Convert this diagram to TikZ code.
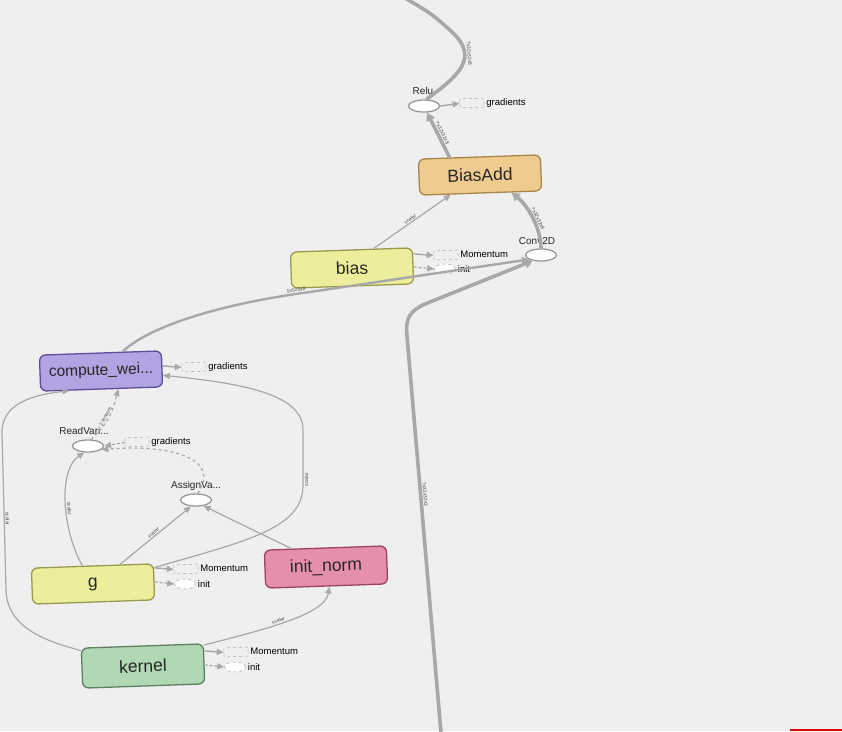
\documentclass[tikz,border=0pt]{standalone}
\usepackage{fontspec}
\setmainfont{Liberation Sans}
\usetikzlibrary{shapes.geometric,arrows.meta}
\definecolor{bg}{HTML}{EFEFEF}
\definecolor{edgec}{HTML}{A8A8A8}
\definecolor{yelf}{HTML}{EDED9C}\definecolor{yeld}{HTML}{9A9A52}
\definecolor{tanf}{HTML}{EFCB8F}\definecolor{tand}{HTML}{A8874C}
\definecolor{purf}{HTML}{B2A4E2}\definecolor{purd}{HTML}{5E4E9A}
\definecolor{pinf}{HTML}{E68FAD}\definecolor{pind}{HTML}{9E4262}
\definecolor{grnf}{HTML}{B1D8B4}\definecolor{grnd}{HTML}{5E805F}
\tikzset{
  opnode/.style={draw, line width=1.3pt, rounded corners=6pt, minimum width=122pt,
    minimum height=36pt, rotate=2, font=\fontsize{17.5}{17.5}\selectfont, text=black!85},
  oval/.style={ellipse, draw=black!40, fill=white, line width=1.3pt, minimum width=31pt,
    minimum height=12pt, inner sep=0pt},
  ovlabel/.style={font=\fontsize{10}{10}\selectfont, text=black!85},
  sumbox/.style={draw=black!35, dashed, line width=0.5pt, minimum width=24pt, minimum height=9pt,
    inner sep=0pt, rotate=2},
  initov/.style={ellipse, draw=black!35, dashed, line width=0.5pt, fill=white, minimum width=21pt,
    minimum height=10pt, inner sep=0pt},
  auxtxt/.style={font=\fontsize{9.5}{9.5}\selectfont, text=black, inner sep=2pt},
  bigedge/.style={draw=edgec, line width=3.6pt, -{Triangle[length=8pt,width=9pt]}},
  midedge/.style={draw=edgec, line width=2.4pt, -{Triangle[length=7pt,width=7pt]}},
  thinedge/.style={draw=edgec, line width=1.2pt, -{Triangle[length=7pt,width=6pt]}},
  dashedge/.style={draw=edgec, line width=1.2pt, dashed, -{Triangle[length=7pt,width=6pt]}},
  auxarrow/.style={draw=edgec, line width=1.4pt, -{Triangle[length=7pt,width=6pt]}},
  auxdash/.style={draw=edgec, line width=1.2pt, densely dashed, -{Triangle[length=7pt,width=6pt]}},
  elab/.style={font=\fontsize{5}{5}\selectfont, text=black!70, sloped, inner sep=1pt}
}
\begin{document}
\begin{tikzpicture}[x=1pt,y=-1pt]
\fill[bg] (0,0) rectangle (842,731);
\useasboundingbox (0,0) rectangle (842,731);
\fill[red!85!black] (790,729) rectangle (842,731);

% main nodes
\node[opnode, fill=tanf, draw=tand] (biasadd) at (480,175) {BiasAdd};
\node[opnode, fill=yelf, draw=yeld] (bias) at (352,268) {bias};
\node[opnode, fill=purf, draw=purd, font=\fontsize{15.5}{15.5}\selectfont] (cw) at (101,371) {compute\_wei...};
\node[opnode, fill=yelf, draw=yeld] (g) at (93,584) {g};
\node[opnode, fill=pinf, draw=pind, minimum height=38pt] (initn) at (326,567) {init\_norm};
\node[opnode, fill=grnf, draw=grnd, minimum height=40pt] (kernel) at (143,666) {kernel};

\node[oval] (relu) at (424,106) {};
\node[ovlabel] (relut) at (423,91) {Relu};
\node[oval] (conv) at (541,255) {};
\node[ovlabel] (convt) at (537,241) {Conv2D};
\node[oval] (rv) at (88,446) {};
\node[ovlabel] (rvt) at (84,431) {ReadVari...};
\node[oval] (av) at (196,500) {};
\node[ovlabel] (avt) at (196,486) {AssignVa...};

% free ends
\coordinate (topend) at (405,-2);
\coordinate (botend) at (441,733);

% auxiliary summary nodes
\node[sumbox] (reluG) at (472,103) {};
\node[auxtxt, anchor=west] (reluGt) at (reluG.east) {gradients};
\draw[auxarrow] (relu.east) -- (reluG.west);

\node[sumbox] (biasM) at (446,255) {};
\node[auxtxt, anchor=west] (biasMt) at (biasM.east) {Momentum};
\node[initov] (biasI) at (445,269) {};
\node[auxtxt, anchor=west] (biasIt) at (biasI.east) {init};
\draw[auxarrow] ([yshift=12pt]bias.east) -- (biasM.west);
\draw[auxdash] ([yshift=-1pt]bias.east) -- (biasI.west);

\node[sumbox] (cwG) at (194,367) {};
\node[auxtxt, anchor=west] (cwGt) at (cwG.east) {gradients};
\draw[auxarrow] ([yshift=3pt]cw.east) -- (cwG.west);

\node[sumbox] (rvG) at (137,442) {};
\node[auxtxt, anchor=west] (rvGt) at (rvG.east) {gradients};
\draw[auxdash] (rvG.west) -- (rv.east);

\node[sumbox] (gM) at (186,569) {};
\node[auxtxt, anchor=west] (gMt) at (gM.east) {Momentum};
\node[initov] (gI) at (185,584) {};
\node[auxtxt, anchor=west] (gIt) at (gI.east) {init};
\draw[auxarrow] ([yshift=14pt]g.east) -- (gM.west);
\draw[auxdash] ([yshift=0pt]g.east) -- (gI.west);

\node[sumbox] (kM) at (236,652) {};
\node[auxtxt, anchor=west] (kMt) at (kM.east) {Momentum};
\node[initov] (kI) at (235,667) {};
\node[auxtxt, anchor=west] (kIt) at (kI.east) {init};
\draw[auxarrow] ([yshift=13pt]kernel.east) -- (kM.west);
\draw[auxdash] ([yshift=-1pt]kernel.east) -- (kI.west);

% tensor edges
\draw[bigedge, -] (relu.70) .. controls (458,76) and (480,58) .. (452,32)
   node[elab, pos=0.7, above] {?x32x32x8} .. controls (432,14) .. (topend);
\draw[bigedge] (biasadd.148) -- node[elab, above] {?x32x32x8} (relu.-65);
\draw[bigedge] (conv.north) .. controls (541,228) and (528,206) .. node[elab, above, pos=0.45] {?x32x32x8} (biasadd.-31);
\draw[thinedge] (bias.40) -- node[elab, above] {scalar} (biasadd.-148);
\draw[midedge] (cw.40) .. controls (150,326) and (220,304) .. (310,292)
   node[elab, above, pos=0.95] {5x5x3x8} -- (conv.200);
\draw[bigedge] (botend) -- node[elab, above, pos=0.6] {?x32x32x3} (407,336)
   .. controls (405,318) and (410,311) .. (425,304) -- (conv.215);

% variable edges
\draw[dashedge] (rv.65) .. controls (112,420) and (114,405) .. node[elab, above, pos=0.4] {2 tensors} (cw.-48);
\draw[dashedge] (av.75) .. controls (222,458) and (170,444) .. (rv.-15);
\draw[thinedge] (g.118) .. controls (62,530) and (58,470) .. node[elab, above, pos=0.45] {scalar} (rv.-120);
\draw[thinedge] (g.34) -- node[elab, above] {scalar} (av.-128);
\draw[thinedge] (g.13) .. controls (250,540) and (303,528) .. (303,485)
   -- node[elab, below, pos=0.1] {scalar} (303,430) .. controls (303,396) and (250,384) .. (cw.-6);
\draw[thinedge] (initn.150) -- (av.-38);
\draw[thinedge] (kernel.17) .. controls (262,630) and (325,615) .. node[elab, above, pos=0.45] {scalar} (initn.-82);
\draw[thinedge] (kernel.164) .. controls (40,640) and (7,625) .. (6,590)
   -- node[elab, above, pos=0.45] {scalar} (2,432) .. controls (2,405) and (30,395) .. (cw.-150);
\end{tikzpicture}
\end{document}
